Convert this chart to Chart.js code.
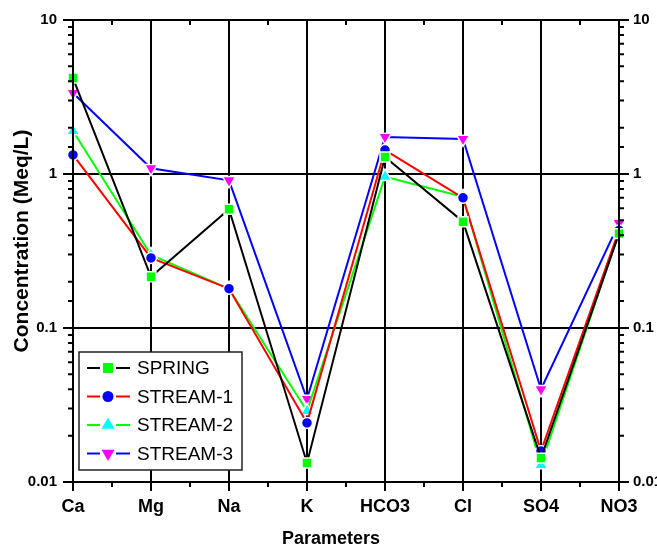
<!DOCTYPE html>
<html>
<head>
<meta charset="utf-8">
<script src="https://cdn.jsdelivr.net/npm/chart.js@4/dist/chart.umd.min.js"></script>
<style>
  html, body { margin: 0; padding: 0; background: #fff; }
  #wrap { width: 657px; height: 548px; }
</style>
</head>
<body>
<div id="wrap"><canvas id="chart" width="657" height="548"></canvas></div>
<script>
const params = ['Ca', 'Mg', 'Na', 'K', 'HCO3', 'Cl', 'SO4', 'NO3'];
const spring  = [4.2, 0.215, 0.59, 0.0133, 1.29, 0.49, 0.0143, 0.41];
const stream1 = [1.33, 0.285, 0.18, 0.0242, 1.43, 0.70, 0.0159, 0.43];
const stream2 = [1.9, 0.298, 0.18, 0.0289, 0.96, 0.71, 0.0129, 0.42];
const stream3 = [3.36, 1.09, 0.91, 0.0346, 1.74, 1.69, 0.040, 0.48];
const yTickLabels = ['0.01', '0.1', '1', '10'];

const FONT = "'Liberation Sans', Arial, sans-serif";

const series = [
  { label: 'SPRING',   data: spring,  line: '#000000', marker: '#00ff00', style: 'rect',     rot: 0,   r: 7 },
  { label: 'STREAM-1', data: stream1, line: '#ff0000', marker: '#0000ff', style: 'circle',   rot: 0,   r: 5.5 },
  { label: 'STREAM-2', data: stream2, line: '#00ff00', marker: '#00ffff', style: 'triangle', rot: 0,   r: 7.5 },
  { label: 'STREAM-3', data: stream3, line: '#0000ff', marker: '#ff00ff', style: 'triangle', rot: 180, r: 7.5 },
];

const isPow10 = v => Math.abs(Math.log10(v) - Math.round(Math.log10(v))) < 1e-6;

function drawMarker(ctx, s, x, y) {
  ctx.save();
  ctx.fillStyle = s.marker;
  ctx.beginPath();
  if (s.style === 'rect') {
    const h = s.r * Math.SQRT1_2;
    ctx.rect(x - h, y - h, 2 * h, 2 * h);
  } else if (s.style === 'circle') {
    ctx.arc(x, y, s.r, 0, Math.PI * 2);
  } else {
    let a = s.rot * Math.PI / 180;
    for (let k = 0; k < 3; k++) {
      const px = x + Math.sin(a) * s.r;
      const py = y - Math.cos(a) * s.r;
      if (k === 0) ctx.moveTo(px, py); else ctx.lineTo(px, py);
      a += Math.PI * 2 / 3;
    }
    ctx.closePath();
  }
  ctx.fill();
  ctx.restore();
}

const frame = {
  id: 'frame',
  afterDraw(chart) {
    const ctx = chart.ctx;
    const a = chart.chartArea;
    const x = chart.scales.x, y = chart.scales.y;
    ctx.save();
    ctx.strokeStyle = '#000';
    ctx.lineWidth = 2;
    ctx.strokeRect(a.left, a.top, a.right - a.left, a.bottom - a.top);

    // y ticks, left and right, outward
    y.ticks.forEach(t => {
      const py = y.getPixelForValue(t.value);
      const len = isPow10(t.value) ? 10 : 5;
      ctx.beginPath();
      ctx.moveTo(a.left - len, py); ctx.lineTo(a.left, py);
      ctx.moveTo(a.right, py); ctx.lineTo(a.right + len, py);
      ctx.stroke();
    });
    // x ticks
    for (let i = 0; i < params.length; i++) {
      const px = x.getPixelForValue(i);
      ctx.beginPath();
      ctx.moveTo(px, a.bottom); ctx.lineTo(px, a.bottom + 9);
      ctx.stroke();
      if (i < params.length - 1) {
        const pm = x.getPixelForValue(i + 0.5);
        ctx.beginPath();
        ctx.moveTo(pm, a.bottom); ctx.lineTo(pm, a.bottom + 5);
        ctx.moveTo(pm, a.top); ctx.lineTo(pm, a.top + 5);
        ctx.stroke();
      }
    }

    // axis titles
    ctx.fillStyle = '#000';
    ctx.textAlign = 'center';
    ctx.textBaseline = 'middle';
    ctx.font = 'bold 18px ' + FONT;
    ctx.fillText('Parameters', 331, 539);
    ctx.save();
    ctx.translate(22, 241);
    ctx.rotate(-Math.PI / 2);
    ctx.font = 'bold 21px ' + FONT;
    ctx.fillText('Concentration (Meq/L)', 0, 0);
    ctx.restore();

    // legend
    const bx = 79, by = 352, bw = 163, bh = 118;
    ctx.fillStyle = '#fff';
    ctx.fillRect(bx, by, bw, bh);
    ctx.lineWidth = 1.5;
    ctx.strokeStyle = '#222';
    ctx.strokeRect(bx, by, bw, bh);
    ctx.font = '19px ' + FONT;
    ctx.textAlign = 'left';
    series.forEach((s, i) => {
      const ly = 368 + i * 28.5;
      ctx.strokeStyle = s.line;
      ctx.lineWidth = 2;
      ctx.beginPath();
      ctx.moveTo(87, ly); ctx.lineTo(100, ly);
      ctx.moveTo(116, ly); ctx.lineTo(130, ly);
      ctx.stroke();
      drawMarker(ctx, s, 108, ly);
      ctx.fillStyle = '#000';
      ctx.fillText(s.label, 137, ly + 1);
    });
    ctx.restore();
  }
};

const yTicks = {
  min: 0.01, max: 10
};

const fitY = w => s => {
  s.width = w;
  s.paddingTop = 0;
  s.paddingBottom = 0;
};

new Chart(document.getElementById('chart'), {
  type: 'line',
  data: {
    labels: params,
    datasets: series.map(s => ({
      label: s.label,
      data: s.data,
      borderColor: s.line,
      borderWidth: 2,
      backgroundColor: s.marker,
      pointBackgroundColor: s.marker,
      pointBorderColor: '#ffffff',
      pointBorderWidth: 1.5,
      pointStyle: s.style,
      pointRotation: s.rot,
      pointRadius: s.r,
      pointHoverRadius: s.r,
      tension: 0,
      fill: false,
      clip: false,
    })),
  },
  options: {
    responsive: false,
    devicePixelRatio: 1,
    animation: false,
    layout: { padding: { top: 20, left: 0, right: 0, bottom: 0 } },
    plugins: { legend: { display: false }, tooltip: { enabled: false } },
    scales: {
      x: {
        type: 'category',
        offset: false,
        afterFit: s => { s.height = 66; },
        grid: { color: '#000', lineWidth: 2, drawTicks: false },
        border: { display: false },
        ticks: { color: '#000', padding: 14, font: { family: FONT, size: 18, weight: 'bold' }, maxRotation: 0 },
      },
      y: {
        type: 'logarithmic',
        position: 'left',
        min: yTicks.min, max: yTicks.max,
        afterFit: fitY(73),
        grid: {
          drawTicks: false,
          lineWidth: 2,
          color: c => (c.tick && isPow10(c.tick.value)) ? '#000' : 'rgba(0,0,0,0)',
        },
        border: { display: false },
        ticks: {
          autoSkip: false,
          color: '#000',
          padding: 16,
          font: { family: FONT, size: 15, weight: 'bold' },
          callback: v => {
            const s = String(Number(v.toPrecision(3)));
            return yTickLabels.includes(s) ? s : '';
          },
        },
      },
      y2: {
        type: 'logarithmic',
        position: 'right',
        min: yTicks.min, max: yTicks.max,
        afterFit: fitY(38),
        grid: { display: false, drawTicks: false },
        border: { display: false },
        ticks: {
          autoSkip: false,
          color: '#000',
          padding: 14,
          font: { family: FONT, size: 15, weight: 'bold' },
          callback: v => {
            const s = String(Number(v.toPrecision(3)));
            return yTickLabels.includes(s) ? s : '';
          },
        },
      },
    },
  },
  plugins: [frame],
});
</script>
</body>
</html>
